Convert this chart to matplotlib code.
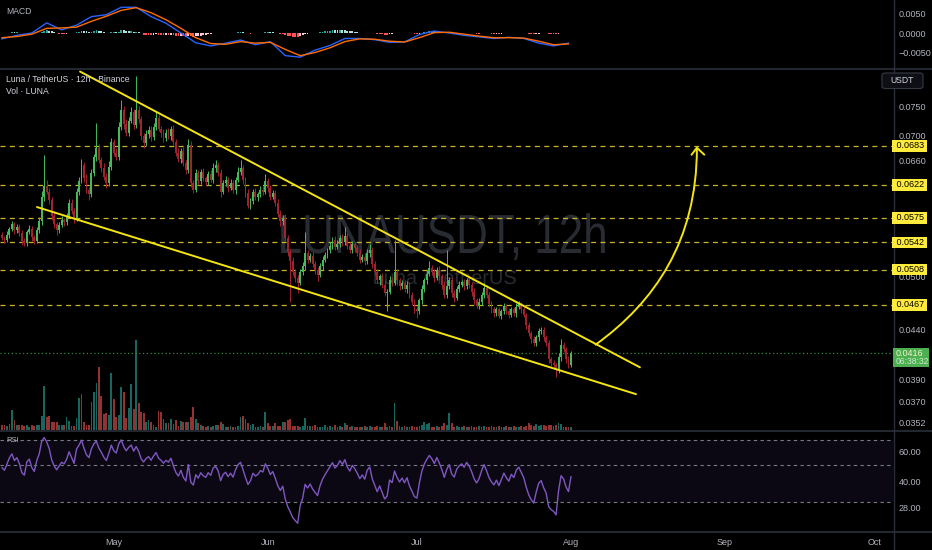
import numpy as np
import pandas as pd
import matplotlib
matplotlib.use('Agg')
import matplotlib.pyplot as plt
import matplotlib.dates as mdates
import matplotlib.ticker as mticker
from matplotlib import font_manager as fm
from matplotlib import transforms
from matplotlib.path import Path
from matplotlib.patches import PathPatch, FancyBboxPatch, Rectangle
from matplotlib.lines import Line2D
from matplotlib.transforms import Bbox, TransformedBbox, Affine2D, IdentityTransform
from matplotlib.textpath import TextPath
from matplotlib.font_manager import FontProperties

# ---------------- data ----------------
start_time = "2020-04-08 12:00"
first_open = 0.0552
closes = [
    0.0548, 0.0545, 0.0552, 0.0560, 0.0566, 0.0558, 0.0562, 0.0555, 0.0544, 0.0541,
    0.0556, 0.0560, 0.0549, 0.0544, 0.0558, 0.0570, 0.0605, 0.0620, 0.0612, 0.0600,
    0.0578, 0.0566, 0.0558, 0.0565, 0.0572, 0.0569, 0.0578, 0.0596, 0.0585, 0.0574,
    0.0612, 0.0628, 0.0652, 0.0632, 0.0615, 0.0608, 0.0640, 0.0665, 0.0680, 0.0660,
    0.0648, 0.0634, 0.0625, 0.0650, 0.0690, 0.0672, 0.0665, 0.0715, 0.0745, 0.0720,
    0.0705, 0.0725, 0.0740, 0.0718, 0.0745, 0.0728, 0.0700, 0.0688, 0.0702, 0.0710,
    0.0698, 0.0715, 0.0730, 0.0712, 0.0705, 0.0696, 0.0705, 0.0700, 0.0712, 0.0690,
    0.0672, 0.0662, 0.0675, 0.0655, 0.0645, 0.0684, 0.0625, 0.0615, 0.0640, 0.0628,
    0.0642, 0.0632, 0.0627, 0.0638, 0.0630, 0.0648, 0.0652, 0.0640, 0.0612, 0.0625,
    0.0630, 0.0618, 0.0625, 0.0615, 0.0630, 0.0642, 0.0648, 0.0630, 0.0610, 0.0592,
    0.0598, 0.0612, 0.0605, 0.0608, 0.0615, 0.0612, 0.0628, 0.0618, 0.0605, 0.0610,
    0.0596, 0.0580, 0.0570, 0.0575, 0.0548, 0.0530, 0.0518, 0.0505, 0.0498, 0.0492,
    0.0505, 0.0512, 0.0528, 0.0520, 0.0525, 0.0515, 0.0508, 0.0502, 0.0512, 0.0520,
    0.0526, 0.0532, 0.0538, 0.0545, 0.0536, 0.0540, 0.0548, 0.0542, 0.0550, 0.0538,
    0.0532, 0.0540, 0.0535, 0.0528, 0.0520, 0.0524, 0.0518, 0.0528, 0.0532, 0.0515,
    0.0505, 0.0495, 0.0500, 0.0490, 0.0480, 0.0482, 0.0496, 0.0492, 0.0505, 0.0495,
    0.0488, 0.0492, 0.0485, 0.0490, 0.0478, 0.0470, 0.0462, 0.0460, 0.0472, 0.0485,
    0.0495, 0.0503, 0.0510, 0.0505, 0.0498, 0.0508, 0.0500, 0.0490, 0.0478, 0.0488,
    0.0495, 0.0480, 0.0475, 0.0485, 0.0490, 0.0493, 0.0488, 0.0495, 0.0490, 0.0482,
    0.0472, 0.0466, 0.0470, 0.0478, 0.0486, 0.0478, 0.0468, 0.0462, 0.0458, 0.0462,
    0.0455, 0.0460, 0.0466, 0.0460, 0.0456, 0.0462, 0.0458, 0.0465, 0.0468, 0.0462,
    0.0456, 0.0445, 0.0436, 0.0430, 0.0426, 0.0432, 0.0438, 0.0440, 0.0432, 0.0426,
    0.0410, 0.0406, 0.0404, 0.0400, 0.0412, 0.0424, 0.0420, 0.0410, 0.0404, 0.0416,
]
# wick extents beyond the candle body, in units of 0.0001
upper_wicks = [
    4, 3, 5, 3, 4, 3, 5, 4, 3, 4,   3, 5, 4, 3, 4, 6, 8, 48, 10, 5,
    4, 6, 3, 4, 5, 3, 4, 6, 5, 4,   5, 6, 10, 5, 6, 4, 7, 5, 42, 6,
    5, 7, 6, 8, 6, 5, 7, 8, 17, 6,  8, 7, 9, 6, 63, 7, 6, 5, 8, 7,
    6, 7, 12, 6, 5, 7, 6, 8, 5, 6,  5, 7, 4, 6, 5, 11, 7, 5, 6, 4,
    5, 6, 4, 5, 6, 7, 8, 5, 6, 4,   5, 4, 6, 5, 4, 7, 12, 5, 4, 6,
    5, 4, 6, 4, 5, 6, 10, 5, 4, 5,  4, 5, 6, 4, 5, 4, 3, 5, 4, 3,
    4, 5, 28, 4, 3, 5, 4, 3, 4, 5,  4, 3, 5, 4, 6, 5, 4, 5, 12, 4,
    5, 4, 3, 4, 5, 3, 4, 5, 8, 4,   3, 4, 3, 4, 5, 3, 4, 3, 40, 4,
    3, 4, 3, 4, 3, 4, 3, 4, 3, 4,   3, 4, 8, 3, 4, 3, 4, 3, 4, 44,
    4, 3, 4, 3, 4, 3, 4, 3, 4, 3,   4, 3, 4, 3, 6, 3, 4, 3, 2, 3,
    3, 2, 3, 2, 3, 2, 3, 4, 3, 2,   3, 2, 3, 2, 3, 2, 4, 3, 3, 2,
    3, 2, 3, 2, 4, 6, 3, 2, 3, 2,
]
lower_wicks = [
    3, 4, 3, 4, 3, 5, 3, 4, 5, 3,   4, 3, 5, 4, 3, 4, 5, 6, 4, 5,
    6, 5, 6, 4, 3, 5, 4, 3, 5, 6,   4, 5, 3, 6, 5, 8, 4, 5, 6, 5,
    6, 5, 8, 4, 5, 6, 5, 4, 5, 8,   6, 5, 4, 7, 5, 6, 7, 8, 5, 6,
    7, 5, 6, 5, 7, 6, 5, 6, 7, 5,   6, 5, 7, 4, 6, 5, 6, 5, 4, 6,
    5, 4, 6, 5, 4, 5, 6, 5, 7, 4,   5, 6, 4, 5, 6, 4, 5, 6, 5, 4,
    5, 4, 5, 6, 4, 5, 4, 6, 5, 4,   5, 4, 6, 5, 4, 5, 48, 4, 5, 12,
    3, 4, 5, 4, 3, 4, 5, 8, 3, 4,   3, 4, 3, 5, 4, 3, 4, 5, 3, 4,
    3, 4, 5, 3, 4, 3, 4, 3, 4, 5,   4, 3, 5, 4, 3, 20, 3, 4, 3, 5,
    4, 3, 4, 5, 4, 3, 4, 8, 3, 4,   3, 4, 3, 4, 5, 3, 4, 5, 4, 3,
    3, 4, 5, 3, 4, 3, 4, 3, 4, 5,   4, 3, 4, 3, 3, 4, 3, 4, 5, 3,
    3, 4, 3, 3, 4, 3, 3, 4, 3, 4,   3, 4, 3, 4, 3, 3, 4, 3, 4, 3,
    4, 3, 4, 7, 3, 4, 3, 4, 3, 2,
]
volumes = [
    5, 5, 4, 6, 20, 10, 5, 5, 5, 4,    5, 3, 5, 4, 5, 5, 14, 44, 13, 14,
    8, 8, 8, 5, 5, 5, 13, 9, 4, 4,     12, 32, 36, 8, 5, 5, 28, 38, 47, 63,
    34, 16, 17, 15, 57, 31, 13, 15, 43, 38,  12, 22, 46, 21, 90, 27, 18, 17, 8, 10,
    8, 5, 3, 19, 18, 11, 7, 7, 11, 6,  10, 4, 9, 8, 8, 8, 13, 23, 11, 7,
    5, 4, 3, 4, 3, 4, 5, 5, 8, 6,      3, 3, 4, 3, 3, 4, 13, 14, 11, 7,
    5, 6, 3, 3, 4, 3, 18, 7, 4, 4,     7, 4, 4, 8, 8, 10, 11, 4, 4, 4,
    3, 4, 12, 4, 4, 4, 5, 3, 3, 3,     5, 3, 4, 3, 5, 3, 4, 3, 7, 5,
    3, 4, 3, 3, 3, 3, 4, 3, 4, 3,      3, 4, 3, 3, 7, 3, 4, 3, 27, 9,
    4, 3, 4, 3, 3, 4, 3, 3, 4, 5,      8, 6, 7, 3, 3, 4, 3, 4, 7, 5,
    17, 7, 3, 4, 3, 3, 4, 3, 3, 4,     3, 3, 4, 3, 4, 3, 3, 4, 3, 3,
    4, 3, 3, 4, 3, 3, 4, 3, 3, 4,      3, 4, 7, 5, 4, 6, 4, 5, 5, 4,
    5, 5, 4, 5, 7, 6, 3, 3, 3, 3,
]
# MACD and signal at every 6th candle
macd_step = 6
macd_line = [
    -0.0015, -0.0006, 0.0000, 0.0026, 0.0008, 0.0020, 0.0042, 0.0047, 0.0066, 0.0066,
    0.0042, 0.0025, 0.0000, -0.0025, -0.0033, -0.0026, -0.0018, -0.0030, -0.0022, -0.0058,
    -0.0062, -0.0044, -0.0032, -0.0014, -0.0014, -0.0017, -0.0024, -0.0023, -0.0004, 0.0005,
    0.0000, -0.0006, -0.0010, -0.0014, -0.0011, -0.0014, -0.0026, -0.0033, -0.0026,
]
signal_line = [
    -0.0012, -0.0009, -0.0003, 0.0012, 0.0013, 0.0015, 0.0030, 0.0043, 0.0058, 0.0065,
    0.0052, 0.0034, 0.0012, -0.0012, -0.0027, -0.0029, -0.0022, -0.0026, -0.0024, -0.0042,
    -0.0058, -0.0050, -0.0038, -0.0022, -0.0015, -0.0016, -0.0021, -0.0023, -0.0012, 0.0001,
    0.0002, -0.0003, -0.0008, -0.0012, -0.0012, -0.0013, -0.0021, -0.0030, -0.0028,
]
levels = [0.0683, 0.0622, 0.0575, 0.0542, 0.0508, 0.0467]
price_ticks = [0.0750, 0.0700, 0.0660, 0.0500, 0.0440, 0.0390, 0.0370, 0.0352]
rsi_ticks = [28, 40, 60]
macd_ticks = [0.005, 0.0, -0.005]
month_ticks = ["2020-05-01", "2020-06-01", "2020-07-01", "2020-08-01", "2020-09-01", "2020-10-01"]
month_labels = ["May", "Jun", "Jul", "Aug", "Sep", "Oct"]
upper_line = [("2020-04-24 05:00", 0.0816), ("2020-08-14 21:00", 0.0402)]
lower_line = [("2020-04-15 13:00", 0.0590), ("2020-08-14 02:00", 0.0377)]
arrow_curve = [("2020-08-05 20:00", 0.0424), ("2020-08-17 22:00", 0.0470),
               ("2020-08-26 08:00", 0.0545), ("2020-08-26 08:00", 0.0679)]
arrow_head = [("2020-08-25 07:00", 0.0669), ("2020-08-26 08:00", 0.0680), ("2020-08-27 19:00", 0.0669)]
countdown = "06:38:32"

# ---------------- derived ----------------
closes = np.array(closes)
opens = np.r_[first_open, closes[:-1]]
highs = np.maximum(opens, closes) + np.array(upper_wicks) * 1e-4
lows = np.minimum(opens, closes) - np.array(lower_wicks) * 1e-4
n = len(closes)
dates = pd.Timestamp(start_time) + pd.to_timedelta(np.arange(n) * 12, unit='h')
xd = mdates.date2num(dates)
up = closes >= opens

# RSI(14), Wilder smoothing, neutral seed
deltas = closes - opens
g = np.clip(deltas, 0, None)
l = np.clip(-deltas, 0, None)
seed = np.mean(np.abs(deltas[:14])) / 2
ag = al = seed
rsi = []
for gi, li in zip(g, l):
    ag = (ag * 13 + gi) / 14
    al = (al * 13 + li) / 14
    rsi.append(100 - 100 / (1 + ag / al))
rsi = np.array(rsi)

# histogram from the candles
s = pd.Series(closes)
m_calc = s.ewm(span=12, adjust=False).mean() - s.ewm(span=26, adjust=False).mean()
hist = (m_calc - m_calc.ewm(span=9, adjust=False).mean()).values
x_macd = xd[::macd_step][:len(macd_line)]

def d(t):
    return mdates.date2num(pd.Timestamp(t))

# ---------------- fonts ----------------
names = {f.name for f in fm.fontManager.ttflist}
NARROW = 'Liberation Sans Narrow' if 'Liberation Sans Narrow' in names else 'Liberation Sans'
SANS = 'Liberation Sans'
TXT = '#B2B5BE'

# ---------------- figure ----------------
W, H = 932, 550
def fx(p): return p / W
def fy(p): return 1 - p / H
R = 893

fig = plt.figure(figsize=(9.32, 5.5), dpi=100, facecolor='black')
ax_macd = fig.add_axes([0, fy(68), fx(R), 68 / H])
ax_vol = fig.add_axes([0, fy(430), fx(R), 361 / H])
ax = fig.add_axes([0, fy(430), fx(R), 361 / H])
ax_rsi = fig.add_axes([0, fy(531), fx(R), 99 / H])

x_left = d("2020-08-01") - 114.9
x_right = d("2020-08-01") + 64.8
for a in (ax_macd, ax_vol, ax, ax_rsi):
    a.set_facecolor('black')
    for sp in a.spines.values():
        sp.set_visible(False)
    a.set_xlim(x_left, x_right)
    a.tick_params(colors=TXT, length=0, labelsize=6)
    a.set_xticks([])
ax.patch.set_alpha(0)
ax.set_zorder(2)
ax_vol.set_zorder(1)

# ---- watermark (condensed glyph outlines, pixel coordinates, inside price pane) ----
def watermark(text, size, sx, cx, baseline_px, color):
    tp = TextPath((0, 0), text, size=size, prop=FontProperties(family=SANS))
    ext = tp.get_extents()
    tr = Affine2D().translate(-(ext.x0 + ext.x1) / 2, 0).scale(sx, 1.0).translate(cx, H - baseline_px)
    p = PathPatch(tp, transform=tr + IdentityTransform(), fc=color, ec='none', zorder=0.5)
    p.set_clip_on(False)
    ax.add_artist(p)

watermark("LUNAUSDT, 12h", 55, 0.80, 443, 253, '#292b32')
watermark("Luna / TetherUS", 20, 1.0, 445, 284, '#292b32')

# ---- volume ----
vol_cols = np.where(up, '#26A69A', '#EF5350')
ax_vol.bar(xd, volumes, width=0.36, color=vol_cols, alpha=0.62, linewidth=0)
ax_vol.set_ylim(0, max(volumes) * 4.0)
ax_vol.set_yticks([])

# ---- price ----
ax.set_yscale('log')
ax.set_ylim(0.0346, 0.0821)
ax.yaxis.tick_right()
ax.set_yticks(price_ticks)
ax.set_yticklabels([f"{t:.4f}" for t in price_ticks], fontsize=6.5, family=NARROW, color=TXT)
ax.yaxis.set_minor_locator(mticker.NullLocator())
ax.yaxis.set_minor_formatter(mticker.NullFormatter())
ax.tick_params(axis='y', pad=4, length=0)

for lv in levels:
    ax.axhline(lv, color='#C9B52A', lw=0.9, ls=(0, (4, 3.5)), zorder=1)
ax.axhline(closes[-1], color='#2E8B3E', lw=0.9, ls=(0, (1, 2)), zorder=1)

cand_cols = np.where(up, '#45BA5C', '#A3222F')
ax.vlines(xd, lows, highs, colors=cand_cols, lw=0.7, zorder=3)
ax.bar(xd, np.maximum(np.abs(closes - opens), 1.5e-5), bottom=np.minimum(opens, closes),
       width=0.38, color=cand_cols, linewidth=0, zorder=3)

YEL = '#F5E50F'
ax.plot([d(t) for t, _ in upper_line], [p for _, p in upper_line], color=YEL, lw=1.4, zorder=4,
        solid_capstyle='round')
ax.plot([d(t) for t, _ in lower_line], [p for _, p in lower_line], color=YEL, lw=1.4, zorder=4,
        solid_capstyle='round')
verts = [(d(t), p) for t, p in arrow_curve]
path = Path(verts, [Path.MOVETO, Path.CURVE4, Path.CURVE4, Path.CURVE4])
ax.add_patch(PathPatch(path, fill=False, ec=YEL, lw=1.4, transform=ax.transData, zorder=4))
ax.plot([d(t) for t, _ in arrow_head], [p for _, p in arrow_head], color=YEL, lw=1.4, zorder=4)

# right axis labels for levels
blend = transforms.blended_transform_factory(fig.transFigure, ax.transData)
for lv in levels:
    ax.text(fx(893.5), lv, f" {lv:.4f} ", transform=blend, ha='left', va='center', fontsize=6.5,
            family=NARROW, color='black', clip_on=False, zorder=10,
            bbox=dict(boxstyle='square,pad=0.15', fc='#FFEB3B', ec='none'))

# current price label
yc = fig.transFigure.inverted().transform(ax.transData.transform((xd[-1], closes[-1])))[1]
fig.add_artist(Rectangle((fx(892.5), yc - 14 / H), 36 / W, 19.5 / H, transform=fig.transFigure,
                         fc='#4CAF50', ec='none', zorder=10))
fig.text(fx(896), yc, f"{closes[-1]:.4f}", ha='left', va='center', fontsize=6.5, family=NARROW,
         color='#F4F1CF', zorder=11)
fig.text(fx(896), yc - 8.5 / H, countdown, ha='left', va='center', fontsize=6.2, family=NARROW,
         color='#CDE8CF', zorder=11)

# USDT button
fig.add_artist(FancyBboxPatch((fx(882), fy(88.5)), 41 / W, 15.5 / H,
                              boxstyle='round,pad=0,rounding_size=0.004',
                              transform=fig.transFigure, fc='#0d0f14', ec='#363a45', lw=0.8, zorder=10))
fig.text(fx(902.5), fy(80.5), "USDT", ha='center', va='center', fontsize=6.2, family=NARROW,
         color='#D1D4DC', zorder=11)

fig.text(fx(6), fy(80), "Luna / TetherUS · 12h · Binance", ha='left', va='center', fontsize=6.2,
         family=SANS, color='#D1D4DC', zorder=11)
fig.text(fx(6), fy(91), "Vol · LUNA", ha='left', va='center', fontsize=6.2,
         family=SANS, color='#D1D4DC', zorder=11)

# ---- MACD ----
ax_macd.set_ylim(-0.00897, 0.00846)
prev = np.r_[hist[0], hist[:-1]]
hcols = np.where(hist >= 0, np.where(hist >= prev, '#26A69A', '#B2DFDB'),
                 np.where(hist < prev, '#FF5252', '#FFCDD2'))
ax_macd.bar(xd, hist, width=0.36, color=hcols, linewidth=0)
ax_macd.plot(x_macd, macd_line, color='#2962FF', lw=1.0)
ax_macd.plot(x_macd, signal_line, color='#FF6D00', lw=1.0)
ax_macd.yaxis.tick_right()
ax_macd.set_yticks(macd_ticks)
ax_macd.set_yticklabels([f"{t:.4f}".replace('-', '\u2212') for t in macd_ticks], fontsize=6.5,
                        family=NARROW, color=TXT)
ax_macd.tick_params(axis='y', pad=4, length=0)
fig.text(fx(6), fy(11), "MACD", ha='left', va='center', fontsize=6.2, family=SANS, color=TXT)

# ---- RSI ----
ax_rsi.set_yscale('log')
ax_rsi.set_ylim(20.35, 77.6)
ax_rsi.axhspan(30, 70, color='#7E57C2', alpha=0.1, lw=0)
for lv in (70, 50, 30):
    ax_rsi.axhline(lv, color='#787B86', lw=0.8, ls=(0, (3, 3)))
ax_rsi.plot(xd, rsi, color='#7E57C2', lw=1.0)
ax_rsi.yaxis.tick_right()
ax_rsi.set_yticks(rsi_ticks)
ax_rsi.set_yticklabels([f"{t:.2f}" for t in rsi_ticks], fontsize=6.5, family=NARROW, color=TXT)
ax_rsi.yaxis.set_minor_locator(mticker.NullLocator())
ax_rsi.yaxis.set_minor_formatter(mticker.NullFormatter())
ax_rsi.tick_params(axis='y', pad=4, length=0)
rb = transforms.blended_transform_factory(fig.transFigure, ax_rsi.transData)
t80 = ax_rsi.text(fx(897), 80, "80.00", transform=rb, ha='left', va='center', fontsize=6.5,
                  family=NARROW, color=TXT, clip_on=True)
t80.set_clip_box(TransformedBbox(Bbox([[0, fy(531)], [1, fy(431.5)]]), fig.transFigure))
fig.text(fx(6), fy(441), "RSI", ha='left', va='center', fontsize=5.5, family=SANS, color=TXT)

ax_rsi.set_xticks([d(t) for t in month_ticks])
ax_rsi.set_xticklabels(month_labels, fontsize=6.5, family=NARROW, color=TXT)
ax_rsi.tick_params(axis='x', pad=5, length=0)

# ---- pane separators ----
SEP = '#2A2E39'
for yy in (68.5, 431.2, 531.5):
    fig.add_artist(Line2D([0, 1], [fy(yy), fy(yy)], color=SEP, lw=1.2, transform=fig.transFigure))
fig.add_artist(Line2D([fx(893.5), fx(893.5)], [0, 1], color=SEP, lw=1.0, transform=fig.transFigure))

fig.savefig('out.png', dpi=100, facecolor='black')
